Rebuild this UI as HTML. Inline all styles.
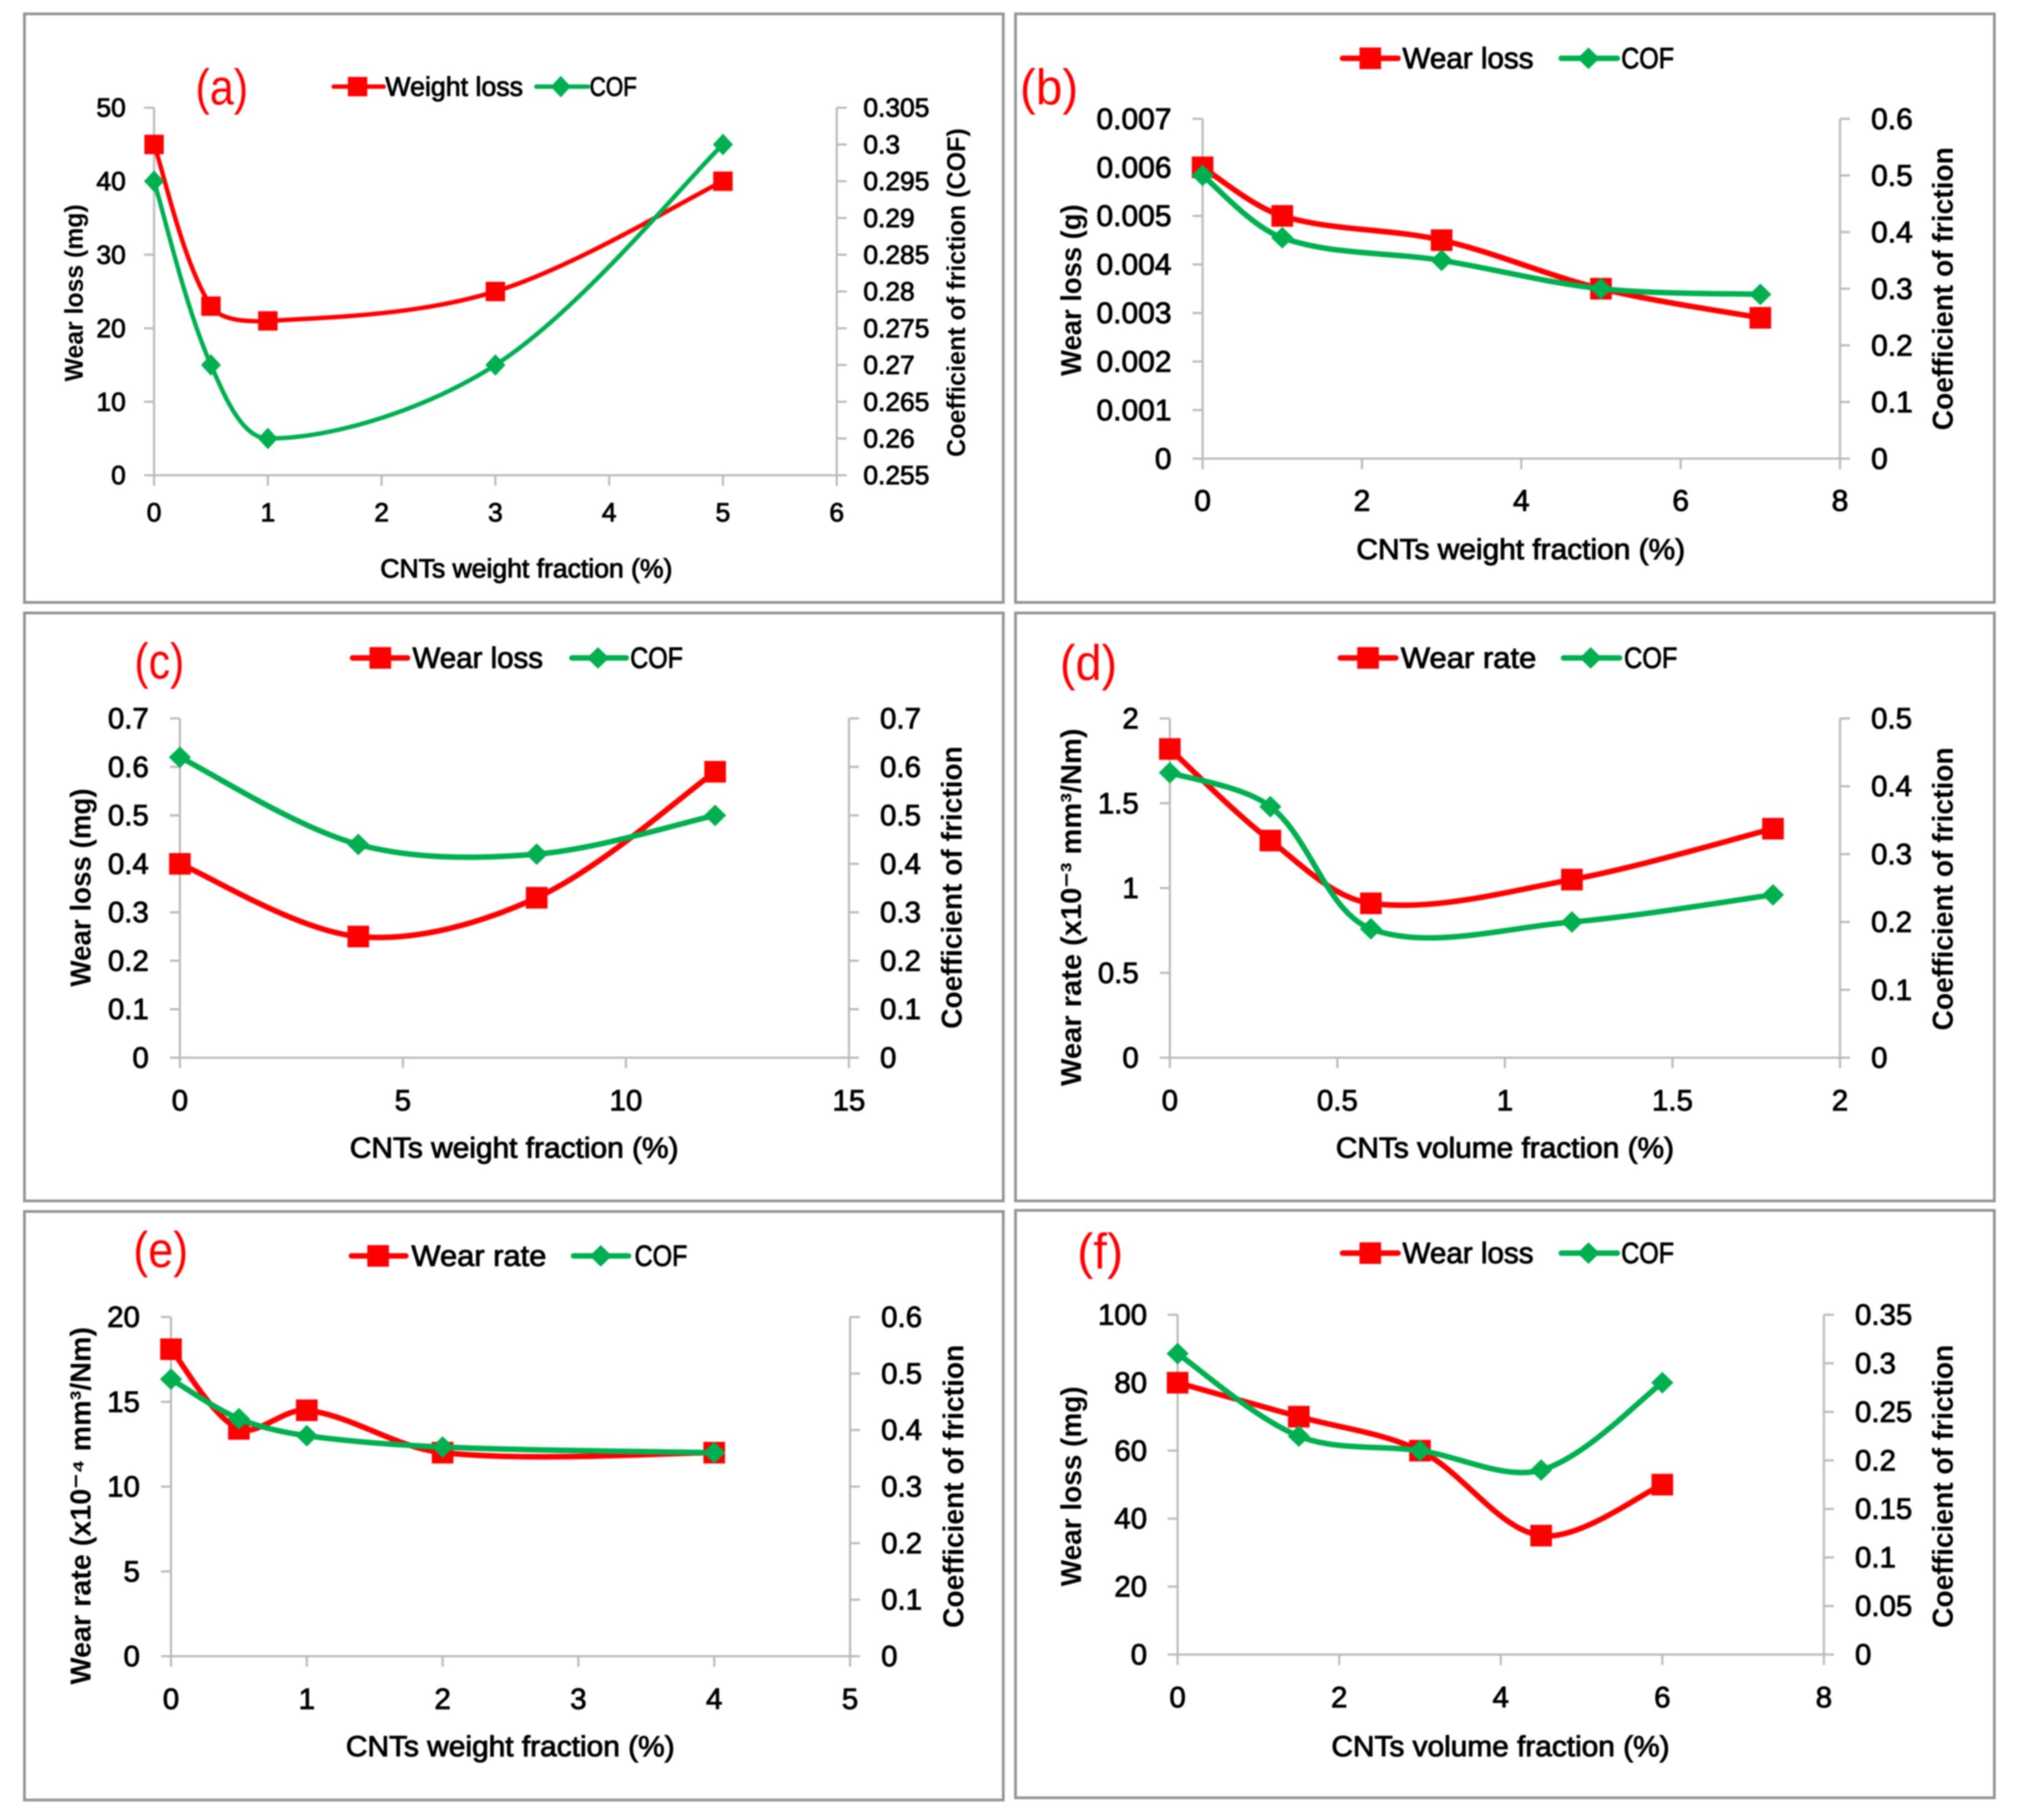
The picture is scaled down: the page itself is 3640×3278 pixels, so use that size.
<!DOCTYPE html>
<html lang="en">
<head>
<meta charset="utf-8">
<title>Wear loss and COF vs CNT fraction</title>
<style>
html,body{margin:0;padding:0;background:#fff;}
body{width:3640px;height:3278px;overflow:hidden;}
#figure{display:block;filter:blur(1.2px);}
text{font-family:"Liberation Sans",sans-serif;}
</style>
</head>
<body>
<svg id="figure" xmlns="http://www.w3.org/2000/svg" width="3640" height="3278" viewBox="0 0 3640 3278"></svg>
<script>
// ---- panel (a) data ----
const aFraction = [0, 0.5, 1, 3, 5];
const aWear = [45, 23, 21, 25, 40];
const aCof = [0.295, 0.27, 0.26, 0.27, 0.3];
const aXTicks = ['0', '1', '2', '3', '4', '5', '6'];
const aLeftTicks = ['0', '10', '20', '30', '40', '50'];
const aRightTicks = ['0.255', '0.26', '0.265', '0.27', '0.275', '0.28', '0.285', '0.29', '0.295', '0.3', '0.305'];
// ---- panel (b) data ----
const bFraction = [0, 1, 3, 5, 7];
const bWear = [0.006, 0.005, 0.0045, 0.0035, 0.0029];
const bCof = [0.5, 0.39, 0.35, 0.3, 0.29];
const bXTicks = ['0', '2', '4', '6', '8'];
const bLeftTicks = ['0', '0.001', '0.002', '0.003', '0.004', '0.005', '0.006', '0.007'];
const bRightTicks = ['0', '0.1', '0.2', '0.3', '0.4', '0.5', '0.6'];
// ---- panel (c) data ----
const cFraction = [0, 4, 8, 12];
const cWear = [0.4, 0.25, 0.33, 0.59];
const cCof = [0.62, 0.44, 0.42, 0.5];
const cXTicks = ['0', '5', '10', '15'];
const cLeftTicks = ['0', '0.1', '0.2', '0.3', '0.4', '0.5', '0.6', '0.7'];
const cRightTicks = ['0', '0.1', '0.2', '0.3', '0.4', '0.5', '0.6', '0.7'];
// ---- panel (d) data ----
const dFraction = [0, 0.3, 0.6, 1.2, 1.8];
const dWear = [1.82, 1.28, 0.91, 1.05, 1.35];
const dCof = [0.42, 0.37, 0.19, 0.2, 0.24];
const dXTicks = ['0', '0.5', '1', '1.5', '2'];
const dLeftTicks = ['0', '0.5', '1', '1.5', '2'];
const dRightTicks = ['0', '0.1', '0.2', '0.3', '0.4', '0.5'];
// ---- panel (e) data ----
const eFraction = [0, 0.5, 1, 2, 4];
const eWear = [18.1, 13.4, 14.5, 12, 12];
const eCof = [0.49, 0.42, 0.39, 0.37, 0.36];
const eXTicks = ['0', '1', '2', '3', '4', '5'];
const eLeftTicks = ['0', '5', '10', '15', '20'];
const eRightTicks = ['0', '0.1', '0.2', '0.3', '0.4', '0.5', '0.6'];
// ---- panel (f) data ----
const fFraction = [0, 1.5, 3, 4.5, 6];
const fWear = [80, 70, 60, 35, 50];
const fCof = [0.31, 0.225, 0.21, 0.19, 0.28];
const fXTicks = ['0', '2', '4', '6', '8'];
const fLeftTicks = ['0', '20', '40', '60', '80', '100'];
const fRightTicks = ['0', '0.05', '0.1', '0.15', '0.2', '0.25', '0.3', '0.35'];

// ---- layout (pixels) kept apart from the data ----
const panels = [
  {key:'a', label:'(a)', frame:[44,25,1807,1085], plot:[277.5,1507,194,856], fs:47.5, xBase:83, leftGap:51, rightGap:48, ms:17.5, lw:8, dw:18,
   labelBox:[352,447,188], xs:aFraction, wear:aWear, cof:aCof, xt:aXTicks, lt:aLeftTicks, rt:aRightTicks,
   xTitle:'CNTs weight fraction (%)', xT:[685,1211,1040], xFs:47,
   lTitle:'Wear loss (mg)', lT:[368,687,149], rTitle:'Coefficient of friction (COF)', rT:[231,823,1738], tFs:46,
   wearName:'Weight loss', lg:{y:156,l1:[601,691],m1:644,t1:[694,942],l2:[966,1059],m2:1010,t2:[1062,1147],fs:48}},
  {key:'b', label:'(b)', frame:[1829,25,3592,1085], plot:[2166,3314,214,826], fs:54, xBase:94, leftGap:56, rightGap:56, ms:19.5, lw:10, dw:20,
   labelBox:[1837,1942,188], xs:bFraction, wear:bWear, cof:bCof, xt:bXTicks, lt:bLeftTicks, rt:bRightTicks,
   xTitle:'CNTs weight fraction (%)', xT:[2443,3035,1007], xFs:52,
   lTitle:'Wear loss (g)', lT:[368,677,1947], rTitle:'Coefficient of friction', rT:[265,775,3517], tFs:52,
   wearName:'Wear loss', lg:{y:105,l1:[2418,2518],m1:2468,t1:[2526,2762],l2:[2812,2913],m2:2861,t2:[2920,3015],fs:53}},
  {key:'c', label:'(c)', frame:[44,1104,1807,2163], plot:[324,1529,1294,1905], fs:53, xBase:95, leftGap:56, rightGap:56, ms:19.5, lw:10, dw:20,
   labelBox:[242,332,1222], xs:cFraction, wear:cWear, cof:cCof, xt:cXTicks, lt:cLeftTicks, rt:cRightTicks,
   xTitle:'CNTs weight fraction (%)', xT:[630,1222,2085], xFs:52,
   lTitle:'Wear loss (mg)', lT:[1420,1777,163], rTitle:'Coefficient of friction', rT:[1344,1853,1732], tFs:52,
   wearName:'Wear loss', lg:{y:1185,l1:[635,734],m1:685,t1:[743,978],l2:[1030,1128],m2:1077,t2:[1135,1230],fs:53}},
  {key:'d', label:'(d)', frame:[1829,1104,3592,2163], plot:[2107,3314,1294,1905], fs:53, xBase:95, leftGap:56, rightGap:56, ms:19.5, lw:10, dw:20,
   labelBox:[1909,2012,1225], xs:dFraction, wear:dWear, cof:dCof, xt:dXTicks, lt:dLeftTicks, rt:dRightTicks,
   xTitle:'CNTs volume fraction (%)', xT:[2406,3015,2085], xFs:52,
   lTitle:'Wear rate (x10⁻³ mm³/Nm)', lT:[1312,1956,1947], rTitle:'Coefficient of friction', rT:[1346,1856,3517], tFs:52,
   wearName:'Wear rate', lg:{y:1185,l1:[2414,2514],m1:2464,t1:[2523,2767],l2:[2816,2917],m2:2865,t2:[2925,3021],fs:53}},
  {key:'e', label:'(e)', frame:[44,2182,1807,3242], plot:[308,1531,2372,2983], fs:53, xBase:95, leftGap:56, rightGap:56, ms:19.5, lw:10, dw:20,
   labelBox:[240,339,2282], xs:eFraction, wear:eWear, cof:eCof, xt:eXTicks, lt:eLeftTicks, rt:eRightTicks,
   xTitle:'CNTs weight fraction (%)', xT:[623,1215,3163], xFs:52,
   lTitle:'Wear rate (x10⁻⁴ mm³/Nm)', lT:[2390,3034,163], rTitle:'Coefficient of friction', rT:[2422,2932,1735], tFs:52,
   wearName:'Wear rate', lg:{y:2262,l1:[633,731],m1:681,t1:[741,984],l2:[1033,1132],m2:1082,t2:[1143,1238],fs:53}},
  {key:'f', label:'(f)', frame:[1829,2180,3592,3238], plot:[2121,3285,2368,2980], fs:53, xBase:95, leftGap:55, rightGap:56, ms:19.5, lw:10, dw:20,
   labelBox:[1940,2023,2285], xs:fFraction, wear:fWear, cof:fCof, xt:fXTicks, lt:fLeftTicks, rt:fRightTicks,
   xTitle:'CNTs volume fraction (%)', xT:[2398,3007,3163], xFs:52,
   lTitle:'Wear loss (mg)', lT:[2497,2857,1947], rTitle:'Coefficient of friction', rT:[2422,2932,3517], tFs:52,
   wearName:'Wear loss', lg:{y:2257,l1:[2418,2518],m1:2468,t1:[2526,2762],l2:[2812,2913],m2:2861,t2:[2920,3015],fs:53}}
];

const NS = 'http://www.w3.org/2000/svg';
const RED = '#ff0000', GREEN = '#00b050', AXIS = '#bcbcbc', FRAME = '#949494';

function mk(parent, tag, attrs, txt) {
  const n = document.createElementNS(NS, tag);
  for (const k in attrs) n.setAttribute(k, attrs[k]);
  if (txt !== undefined) n.textContent = txt;
  parent.appendChild(n);
  return n;
}
function scale(d0, d1, r0, r1) { return v => r0 + (v - d0) / (d1 - d0) * (r1 - r0); }
function dist(a, b) { return Math.hypot(a[0] - b[0], a[1] - b[1]); }
// Spreadsheet-style smoothing: tangent shared by neighbours, weighted by segment length
function smoothPath(pts) {
  let d = 'M' + pts[0][0] + ' ' + pts[0][1];
  for (let i = 0; i < pts.length - 1; i++) {
    const p0 = pts[Math.max(i - 1, 0)], p1 = pts[i], p2 = pts[i + 1], p3 = pts[Math.min(i + 2, pts.length - 1)];
    const d01 = dist(p0, p1), d12 = dist(p1, p2), d23 = dist(p2, p3);
    const r1 = i === 0 ? 0.5 : d12 / (d01 + d12);
    const r2 = i === pts.length - 2 ? 0.5 : d12 / (d12 + d23);
    const c1 = [p1[0] + (p2[0] - p0[0]) * r1 / 3, p1[1] + (p2[1] - p0[1]) * r1 / 3];
    const c2 = [p2[0] - (p3[0] - p1[0]) * r2 / 3, p2[1] - (p3[1] - p1[1]) * r2 / 3];
    d += 'C' + c1[0] + ' ' + c1[1] + ' ' + c2[0] + ' ' + c2[1] + ' ' + p2[0] + ' ' + p2[1];
  }
  return d;
}
function diamond(cx, cy, w) {
  const h = 19.5;
  return (cx) + ',' + (cy - h) + ' ' + (cx + w) + ',' + cy + ' ' + (cx) + ',' + (cy + h) + ' ' + (cx - w) + ',' + cy;
}

const root = document.getElementById('figure');

panels.forEach(p => {
  const g = mk(root, 'g', {});
  
  

  const fr = mk(g, 'rect', {x:p.frame[0], y:p.frame[1], width:p.frame[2]-p.frame[0], height:p.frame[3]-p.frame[1], fill:'#fff', stroke:FRAME, 'stroke-width':5});
  
  

  const [L, R, T, B] = p.plot;
  const num = a => a.map(parseFloat);
  const xT = num(p.xt), lT = num(p.lt), rT = num(p.rt);
  const X = scale(xT[0], xT[xT.length-1], L, R);
  const YL = scale(lT[0], lT[lT.length-1], B, T);
  const YR = scale(rT[0], rT[rT.length-1], B, T);

  // axes
  const axis = {stroke:AXIS, 'stroke-width':4, fill:'none'};
  const lAxis = mk(g, 'line', Object.assign({x1:L, y1:T, x2:L, y2:B}, axis));
  
  
  const rAxis = mk(g, 'line', Object.assign({x1:R, y1:T, x2:R, y2:B}, axis));
  
  
  const bAxis = mk(g, 'line', Object.assign({x1:L-18, y1:B, x2:R+18, y2:B}, axis));
  
  

  p.lt.forEach((s, i) => {
    const y = YL(lT[i]);
    const tk = mk(g, 'line', Object.assign({x1:L-18, y1:y, x2:L, y2:y}, axis));
    
    
    const t = mk(g, 'text', {x:L-p.leftGap, y:y+p.fs*0.34, 'font-size':p.fs, 'text-anchor':'end', fill:'#000', stroke:'#000', 'stroke-width':1.5}, s);
    
    
  });
  p.rt.forEach((s, i) => {
    const y = YR(rT[i]);
    const tk = mk(g, 'line', Object.assign({x1:R, y1:y, x2:R+18, y2:y}, axis));
    
    
    const t = mk(g, 'text', {x:R+p.rightGap, y:y+p.fs*0.34, 'font-size':p.fs, fill:'#000', stroke:'#000', 'stroke-width':1.5}, s);
    
    
  });
  p.xt.forEach((s, i) => {
    const x = X(xT[i]);
    const tk = mk(g, 'line', Object.assign({x1:x, y1:B, x2:x, y2:B+19}, axis));
    
    
    const t = mk(g, 'text', {x:x, y:B+p.xBase, 'font-size':p.fs, 'text-anchor':'middle', fill:'#000', stroke:'#000', 'stroke-width':1.5}, s);
    
    
  });

  // axis titles
  const xTitle = mk(g, 'text', {x:p.xT[0], y:p.xT[2], 'font-size':p.xFs, textLength:p.xT[1]-p.xT[0], lengthAdjust:'spacingAndGlyphs', fill:'#000', stroke:'#000', 'stroke-width':1.6}, p.xTitle);
  
  
  const ly = (p.lT[0]+p.lT[1])/2;
  const lTitle = mk(g, 'text', {x:p.lT[2], y:ly, transform:'rotate(-90 '+p.lT[2]+' '+ly+')', 'text-anchor':'middle', 'font-size':p.tFs, 'font-weight':'bold', textLength:p.lT[1]-p.lT[0], lengthAdjust:'spacingAndGlyphs', fill:'#000'}, p.lTitle);
  
  
  const ry = (p.rT[0]+p.rT[1])/2;
  const rTitle = mk(g, 'text', {x:p.rT[2], y:ry, transform:'rotate(-90 '+p.rT[2]+' '+ry+')', 'text-anchor':'middle', 'font-size':p.tFs, 'font-weight':'bold', textLength:p.rT[1]-p.rT[0], lengthAdjust:'spacingAndGlyphs', fill:'#000'}, p.rTitle);
  
  

  // panel letter
  const pl = mk(g, 'text', {x:p.labelBox[0], y:p.labelBox[2], 'font-size':90, textLength:p.labelBox[1]-p.labelBox[0], lengthAdjust:'spacingAndGlyphs', fill:RED}, p.label);
  
  

  // wear series
  const wearPts = p.xs.map((x, i) => [X(x), YL(p.wear[i])]);
  const wl = mk(g, 'path', {d:smoothPath(wearPts), fill:'none', stroke:RED, 'stroke-width':p.lw});
  
  
  wearPts.forEach(pt => {
    const m = mk(g, 'rect', {x:pt[0]-p.ms, y:pt[1]-p.ms, width:p.ms*2, height:p.ms*2, fill:RED});
    
    
  });

  // COF series
  const cofPts = p.xs.map((x, i) => [X(x), YR(p.cof[i])]);
  const cl = mk(g, 'path', {d:smoothPath(cofPts), fill:'none', stroke:GREEN, 'stroke-width':p.lw});
  
  
  cofPts.forEach(pt => {
    const m = mk(g, 'polygon', {points:diamond(pt[0], pt[1], p.dw), fill:GREEN});
    
    
  });

  // legend
  const lg = p.lg;
  const leg = mk(g, 'g', {});
  
  
  const ll1 = mk(leg, 'line', {x1:lg.l1[0], y1:lg.y, x2:lg.l1[1], y2:lg.y, stroke:RED, 'stroke-width':p.lw, 'stroke-linecap':'round'});
  
  
  const lm1 = mk(leg, 'rect', {x:lg.m1-p.ms, y:lg.y-p.ms, width:p.ms*2, height:p.ms*2, fill:RED});
  
  
  const lt1 = mk(leg, 'text', {x:lg.t1[0], y:lg.y+lg.fs*0.34, 'font-size':lg.fs, textLength:lg.t1[1]-lg.t1[0], lengthAdjust:'spacingAndGlyphs', fill:'#000', stroke:'#000', 'stroke-width':1.5}, p.wearName);
  
  
  const ll2 = mk(leg, 'line', {x1:lg.l2[0], y1:lg.y, x2:lg.l2[1], y2:lg.y, stroke:GREEN, 'stroke-width':p.lw, 'stroke-linecap':'round'});
  
  
  const lm2 = mk(leg, 'polygon', {points:diamond(lg.m2, lg.y, p.dw), fill:GREEN});
  
  
  const lt2 = mk(leg, 'text', {x:lg.t2[0], y:lg.y+lg.fs*0.34, 'font-size':lg.fs, textLength:lg.t2[1]-lg.t2[0], lengthAdjust:'spacingAndGlyphs', fill:'#000', stroke:'#000', 'stroke-width':1.5}, 'COF');
  
  
});
</script>
</body>
</html>
